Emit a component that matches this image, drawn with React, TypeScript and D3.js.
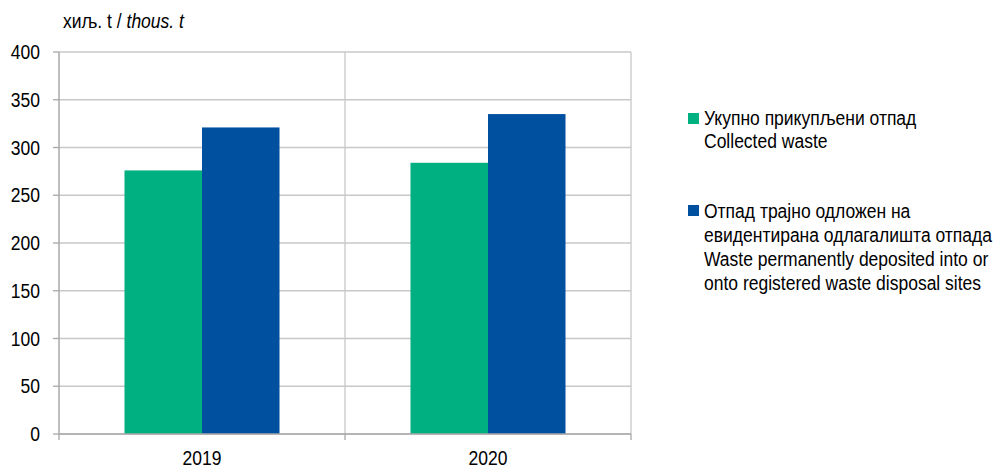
import React from "react";
import * as d3 from "d3";

const categories = ["2019", "2020"];
const collected = [276, 284];
const deposited = [321, 335];
const yTicks = [0, 50, 100, 150, 200, 250, 300, 350, 400];
const seriesNames = [
  ["Укупно прикупљени отпад", "Collected waste"],
  [
    "Отпад трајно одложен на",
    "евидентирана одлагалишта отпада",
    "Waste permanently deposited into or",
    "onto registered waste disposal sites",
  ],
];
const colors = ["#00b080", "#0050a0"];

const W = 993;
const H = 466;
const left = 59;
const right = 631;
const top = 52;
const bottom = 434;
const font = "'Liberation Sans', Arial, sans-serif";
const SX = 0.875;
const FS = 20;

function NText({
  x,
  y,
  anchor = "start",
  children,
}: {
  x: number;
  y: number;
  anchor?: string;
  children: React.ReactNode;
}) {
  return (
    <text
      transform={`translate(${x},${y}) scale(${SX},1)`}
      textAnchor={anchor}
      fontSize={FS}
      fill="#000"
    >
      {children}
    </text>
  );
}

export default function App() {
  const y = d3.scaleLinear().domain([0, 400]).range([bottom, top]);
  const x = d3.scaleBand().domain(categories).range([left, right]).paddingInner(0).paddingOuter(0);
  const groupW = x.bandwidth() * 0.542;
  const barW = groupW / 2;
  const off = (x.bandwidth() - groupW) / 2;
  const series = [collected, deposited];
  const legendBaselines = [
    [125, 148],
    [218, 242, 266, 290],
  ];
  const legendSquares = [113, 205];

  return (
    <svg
      width={W}
      height={H}
      style={{ position: "absolute", left: 0, top: 0, background: "#fff" }}
      fontFamily={font}
    >
      <rect x={0} y={0} width={W} height={H} fill="#fff" />
      <NText x={63} y={28}>
        хиљ. t / <tspan fontStyle="italic">thous. t</tspan>
      </NText>
      {yTicks.map((t) => (
        <line key={t} x1={left} x2={right} y1={y(t)} y2={y(t)} stroke="#c8c8c8" strokeWidth={1.3} />
      ))}
      {categories.map((c) => (
        <line
          key={c}
          x1={x(c)! + x.bandwidth()}
          x2={x(c)! + x.bandwidth()}
          y1={top}
          y2={bottom}
          stroke="#c8c8c8"
          strokeWidth={1.3}
        />
      ))}
      {series.map((vals, si) =>
        categories.map((c, ci) => (
          <rect
            key={si + "-" + c}
            x={x(c)! + off + si * barW}
            y={y(vals[ci])}
            width={barW}
            height={bottom - y(vals[ci])}
            fill={colors[si]}
          />
        ))
      )}
      <line x1={left} x2={left} y1={top} y2={bottom} stroke="#a8a8a8" strokeWidth={1.5} />
      <line x1={left} x2={right} y1={bottom} y2={bottom} stroke="#a8a8a8" strokeWidth={1.5} />
      {yTicks.map((t) => (
        <g key={"t" + t}>
          <line x1={left - 6} x2={left} y1={y(t)} y2={y(t)} stroke="#a8a8a8" strokeWidth={1.3} />
          <NText x={40} y={y(t) + 7} anchor="end">
            {t}
          </NText>
        </g>
      ))}
      {[left, ...categories.map((c) => x(c)! + x.bandwidth())].map((px, i) => (
        <line key={"xt" + i} x1={px} x2={px} y1={bottom} y2={bottom + 6} stroke="#a8a8a8" strokeWidth={1.3} />
      ))}
      {categories.map((c) => (
        <NText key={"xl" + c} x={x(c)! + x.bandwidth() / 2} y={464.5} anchor="middle">
          {c}
        </NText>
      ))}
      {seriesNames.map((lines, si) => (
        <g key={"lg" + si}>
          <rect x={688} y={legendSquares[si]} width={11} height={11} fill={colors[si]} />
          {lines.map((l, li) => (
            <NText key={li} x={704} y={legendBaselines[si][li]}>
              {l}
            </NText>
          ))}
        </g>
      ))}
    </svg>
  );
}
